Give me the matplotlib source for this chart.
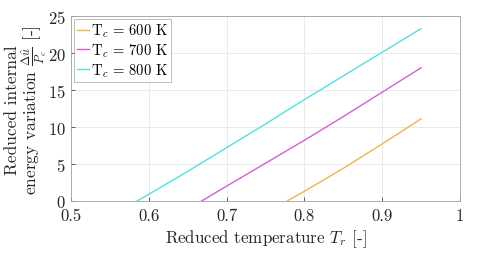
import numpy as np
import matplotlib
matplotlib.use('Agg')
import matplotlib.pyplot as plt

plt.rcParams['font.family'] = 'serif'
plt.rcParams['font.serif'] = ['cmr10', 'DejaVu Serif']
plt.rcParams['mathtext.fontset'] = 'cm'
plt.rcParams['axes.unicode_minus'] = False
plt.rcParams['axes.formatter.use_mathtext'] = True

# data
tr_600 = [0.778, 0.80, 0.85, 0.90, 0.95]
du_600 = [0.0, 1.3, 4.4, 7.7, 11.1]
tr_700 = [0.668, 0.70, 0.75, 0.80, 0.85, 0.90, 0.95]
du_700 = [0.0, 2.0, 5.1, 8.2, 11.4, 14.7, 18.0]
tr_800 = [0.585, 0.60, 0.65, 0.70, 0.75, 0.80, 0.85, 0.90, 0.95]
du_800 = [0.0, 0.9, 4.0, 7.2, 10.4, 13.7, 16.9, 20.1, 23.3]

labels = ['T$_c$ = 600 K', 'T$_c$ = 700 K', 'T$_c$ = 800 K']
colors = ['#EDB64A', '#D55FD5', '#4FE3E0']

fig = plt.figure(figsize=(4.8, 2.55), dpi=100)
ax = fig.add_axes([0.148, 0.208, 0.81, 0.725])

ax.plot(tr_600, du_600, color=colors[0], lw=1.0, label=labels[0])
ax.plot(tr_700, du_700, color=colors[1], lw=1.0, label=labels[1])
ax.plot(tr_800, du_800, color=colors[2], lw=1.0, label=labels[2])

ax.set_xlim(0.5, 1.0)
ax.set_ylim(0, 25)
ax.set_xticks([0.5, 0.6, 0.7, 0.8, 0.9, 1.0])
ax.set_xticklabels(['0.5', '0.6', '0.7', '0.8', '0.9', '1'])
ax.set_yticks([0, 5, 10, 15, 20, 25])
ax.tick_params(direction='in', length=3, labelsize=12, colors='#262626', width=0.5)
ax.tick_params(axis='x', pad=5)
ax.tick_params(axis='y', pad=4)
ax.grid(True, color='#e6e6e6', lw=0.6)
for s in ax.spines.values():
    s.set_color('#a0a0a0')
    s.set_linewidth(0.6)

ax.set_xlabel('Reduced temperature $T_r$ [-]', fontsize=12.2, color='#262626', labelpad=3)
# two-line y label, placed by hand so it clears the tick labels
fig.text(5 / 480, 1 - 110 / 255,
         'Reduced internal\nenergy variation $\\frac{\\Delta \\hat{u}}{P_c}$ [-]',
         rotation=90, ha='left', va='center', multialignment='center',
         fontsize=12.5, color='#262626', linespacing=0.95)

leg = ax.legend(loc='upper left', fontsize=10.5, handlelength=0.8, handletextpad=0.2,
                borderpad=0.2, labelspacing=0.15, borderaxespad=0.2, fancybox=False)
leg.get_frame().set_edgecolor('#a0a0a0')
leg.get_frame().set_linewidth(0.6)

fig.savefig('out.png', dpi=100)
